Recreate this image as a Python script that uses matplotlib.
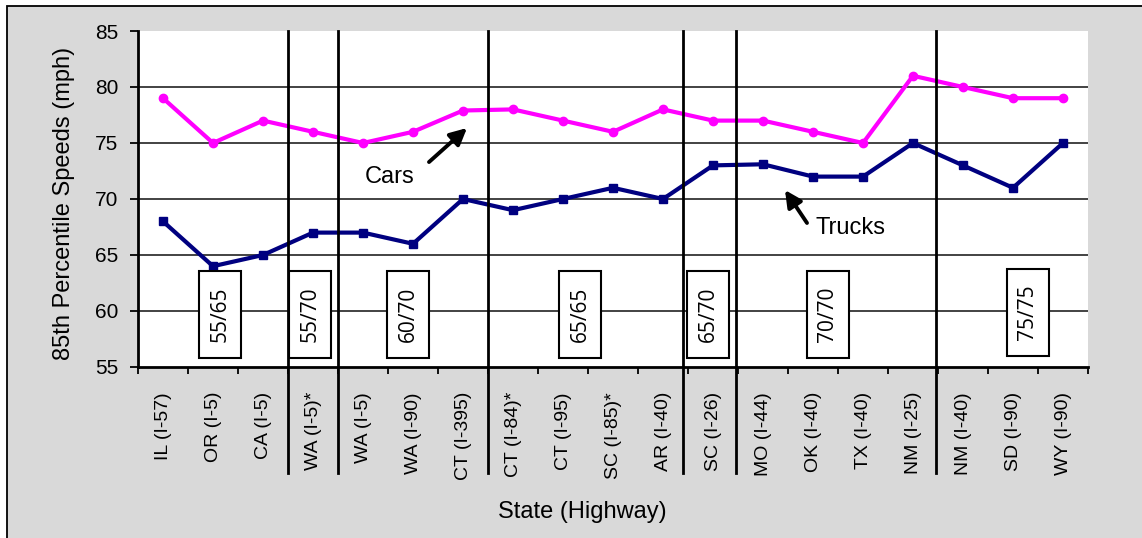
import matplotlib
matplotlib.use("Agg")
import matplotlib.pyplot as plt
from matplotlib.patches import Rectangle
import matplotlib.transforms as mtransforms

plt.rcParams['font.family'] = ['Liberation Sans', 'DejaVu Sans']

# Sites (state and highway), grouped by car/truck speed limit
sites = ["IL (I-57)", "OR (I-5)", "CA (I-5)", "WA (I-5)*", "WA (I-5)", "WA (I-90)",
         "CT (I-395)", "CT (I-84)*", "CT (I-95)", "SC (I-85)*", "AR (I-40)", "SC (I-26)",
         "MO (I-44)", "OK (I-40)", "TX (I-40)", "NM (I-25)", "NM (I-40)", "SD (I-90)",
         "WY (I-90)"]
cars = [79, 75, 77, 76, 75, 76, 77.9, 78, 77, 76, 78, 77, 77, 76, 75, 81, 80, 79, 79]
trucks = [68, 64, 65, 67, 67, 66, 70, 69, 70, 71, 70, 73, 73.1, 72, 72, 75, 73, 71, 75]
limit_groups = ["55/65", "55/70", "60/70", "65/65", "65/70", "70/70", "75/75"]

W, H = 1142, 538
fig = plt.figure(figsize=(W / 100, H / 100), dpi=100)
fig.patch.set_facecolor("white")

# grey chart area with a black frame
fig.patches.append(Rectangle((7 / W, -0.2), 1.2, 1.2 - 6 / H, transform=fig.transFigure,
                             facecolor="#d9d9d9", edgecolor="black", linewidth=1.3,
                             zorder=-10))

ax = fig.add_axes([138 / W, 171 / H, 950 / W, 336 / H])
ax.set_facecolor("white")

x = list(range(len(sites)))
ax.plot(x, cars, color="#ff00ff", lw=3, marker="o", ms=6, zorder=5)
ax.plot(x, trucks, color="#000080", lw=3, marker="s", ms=6, zorder=5)

ax.set_xlim(-0.5, len(sites) - 0.5)
ax.set_ylim(55, 85)
ax.set_yticks(range(55, 86, 5))
ax.tick_params(axis="y", direction="out", length=6, width=1.3, labelsize=15, pad=8)
ax.set_xticks(x)
ax.set_xticklabels(sites, rotation=90, fontsize=14)
ax.tick_params(axis="x", which="major", length=0, pad=18)
ax.set_xticks([i - 0.5 for i in range(len(sites) + 1)], minor=True)
ax.tick_params(axis="x", which="minor", direction="out", length=5, width=1.3)

for yv in range(60, 85, 5):
    ax.axhline(yv, color="#222222", lw=1.2, zorder=1)

for s in ["top", "right"]:
    ax.spines[s].set_visible(False)
for s in ["left", "bottom"]:
    ax.spines[s].set_linewidth(2)

# separators between speed-limit groups, running down into the label area
trans = mtransforms.blended_transform_factory(ax.transData, ax.transAxes)
for xs in [2.49, 3.49, 6.49, 10.39, 11.45, 15.45]:
    ax.plot([xs, xs], [1, -0.316], transform=trans, color="black", lw=2,
            clip_on=False, zorder=6)

# speed-limit group boxes
box_centers = [1.14, 2.94, 4.9, 8.34, 10.9, 13.3, 17.3]
for lab, cx in zip(limit_groups, box_centers):
    y0 = 56.0 if lab == "75/75" else 55.8
    ax.add_patch(Rectangle((cx - 0.42, y0), 0.84, 7.77, facecolor="white",
                           edgecolor="black", lw=1.5, zorder=7))
    ax.text(cx, y0 + 7.77 / 2, lab, rotation=90, ha="center", va="center",
            fontsize=15, family=["Open Sans", "DejaVu Sans"], zorder=8)

# series labels with arrows
ax.annotate("", xy=(6.08, 76.34), xytext=(5.32, 73.3),
            arrowprops=dict(arrowstyle="-|>,head_length=1.0,head_width=0.5",
                            color="black", lw=2.8, shrinkA=0, shrinkB=0), zorder=9)
ax.text(4.04, 72.0, "Cars", fontsize=17, ha="left", va="center", zorder=9)
ax.annotate("", xy=(12.44, 70.8), xytext=(12.88, 67.86),
            arrowprops=dict(arrowstyle="-|>,head_length=1.0,head_width=0.5",
                            color="black", lw=2.8, shrinkA=0, shrinkB=0), zorder=9)
ax.text(13.06, 67.4, "Trucks", fontsize=17, ha="left", va="center", zorder=9)

fig.text(64 / W, 1 - 203 / H, "85th Percentile Speeds (mph)", rotation=90,
         ha="center", va="center", fontsize=17)
fig.text(582 / W, 1 - 512 / H, "State (Highway)", ha="center", va="center",
         fontsize=17)

fig.savefig("out.png", dpi=100, facecolor=fig.get_facecolor())
